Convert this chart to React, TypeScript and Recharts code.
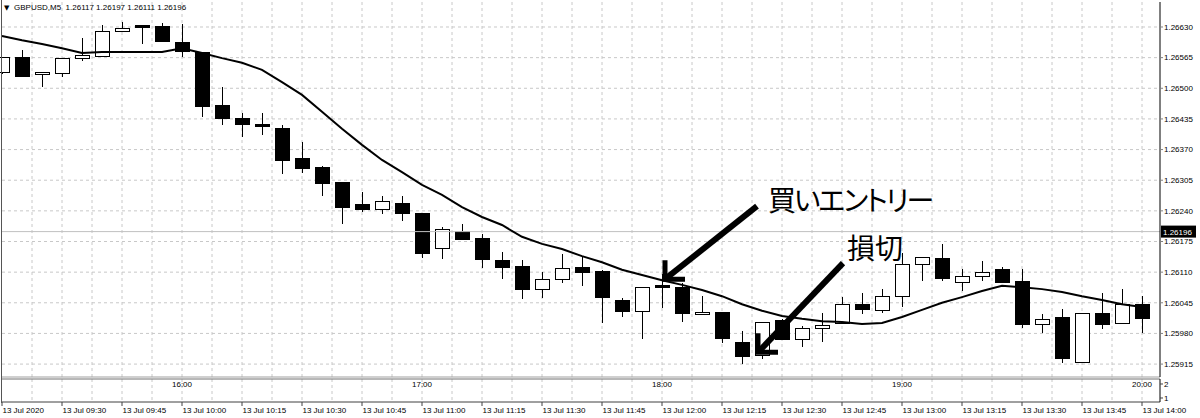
import React from 'react'
import {
  ComposedChart,
  Bar,
  Line,
  XAxis,
  YAxis,
  CartesianGrid,
  ReferenceLine,
} from 'recharts'

// GBPUSD M5 candles, left to right
const OPEN = [
  1.26535, 1.26566, 1.2653, 1.26532, 1.26564, 1.26568, 1.26622, 1.26634, 1.26632, 1.26598,
  1.26577, 1.26465, 1.26437, 1.26424, 1.26416, 1.26352, 1.26333, 1.26301, 1.26255, 1.26244,
  1.26257, 1.26235, 1.26161, 1.26197, 1.26182, 1.26136, 1.26123, 1.26074, 1.26095, 1.26121,
  1.26112, 1.26051, 1.26028, 1.26083, 1.26078, 1.26021, 1.26025, 1.25962, 1.25934, 1.26008,
  1.25968, 1.25991, 1.26002, 1.26042, 1.2603, 1.26059, 1.26127, 1.2614, 1.26089, 1.26102,
  1.26117, 1.26091, 1.26, 1.26015, 1.25919, 1.26023, 1.26002, 1.26042,
]
const HIGH = [
  1.26566, 1.26581, 1.26535, 1.26564, 1.26607, 1.26634, 1.26641, 1.26634, 1.26638, 1.26636,
  1.26577, 1.26503, 1.26448, 1.26448, 1.26422, 1.26386, 1.26335, 1.26301, 1.2628, 1.26271,
  1.26271, 1.26235, 1.26206, 1.26212, 1.26191, 1.26153, 1.26136, 1.2611, 1.26149, 1.26142,
  1.26115, 1.26055, 1.26078, 1.26106, 1.26087, 1.26059, 1.26025, 1.25985, 1.26004, 1.26011,
  1.25995, 1.26023, 1.26057, 1.26066, 1.26074, 1.26151, 1.26142, 1.2617, 1.26117, 1.26134,
  1.26121, 1.26117, 1.26021, 1.26032, 1.26023, 1.26066, 1.26074, 1.26059,
]
const LOW = [
  1.2653, 1.26526, 1.26503, 1.26524, 1.26558, 1.26568, 1.26622, 1.26594, 1.266, 1.26566,
  1.26439, 1.26422, 1.26397, 1.26401, 1.26318, 1.2632, 1.26271, 1.26212, 1.26238, 1.26233,
  1.26218, 1.2614, 1.26138, 1.26178, 1.26119, 1.26095, 1.26053, 1.26055, 1.26087, 1.26081,
  1.26002, 1.26015, 1.25968, 1.26034, 1.26004, 1.26021, 1.2596, 1.25915, 1.25926, 1.25968,
  1.25951, 1.25962, 1.26002, 1.26021, 1.26023, 1.26036, 1.26091, 1.26091, 1.2607, 1.26091,
  1.26089, 1.25991, 1.25981, 1.25917, 1.25919, 1.25989, 1.26002, 1.25981,
]
const CLOSE = [
  1.26566, 1.26526, 1.26535, 1.26564, 1.26571, 1.26622, 1.26628, 1.2663, 1.266, 1.26579,
  1.26462, 1.26437, 1.26424, 1.2642, 1.26348, 1.26331, 1.26299, 1.26248, 1.26244, 1.26261,
  1.26235, 1.26151, 1.26201, 1.2618, 1.26138, 1.26121, 1.26074, 1.26095, 1.26119, 1.2611,
  1.26057, 1.26028, 1.26078, 1.26078, 1.26023, 1.26025, 1.2597, 1.25932, 1.26004, 1.25968,
  1.25991, 1.25998, 1.26042, 1.26032, 1.26059, 1.26127, 1.26142, 1.26098, 1.26102, 1.2611,
  1.26089, 1.26, 1.26011, 1.25928, 1.26023, 1.26, 1.26042, 1.26013,
]
// moving average drawn over the candles
const MA = [
  1.26611, 1.26602, 1.26594, 1.26585, 1.26575, 1.26577, 1.26577, 1.26577, 1.26577, 1.26585,
  1.26575, 1.26564, 1.26554, 1.26539, 1.26513, 1.26486, 1.2645, 1.26414, 1.2638, 1.26348,
  1.26322, 1.26295, 1.26274, 1.26248, 1.26227, 1.2621, 1.26185, 1.2617, 1.26159, 1.26144,
  1.26131, 1.26115, 1.26104, 1.26093, 1.26083, 1.26072, 1.26059, 1.26042, 1.26028, 1.26017,
  1.26011, 1.26006, 1.26004, 1.26, 1.26002, 1.26015, 1.2603, 1.26045, 1.26057, 1.2607,
  1.26081, 1.26078, 1.26074, 1.26068, 1.26059, 1.26051, 1.26042, 1.26036,
]

const PRICE_TICKS = [
  1.2663, 1.26565, 1.265, 1.26435, 1.2637, 1.26305, 1.2624, 1.26175, 1.2611, 1.26045, 1.2598, 1.25915,
]
const Y_MIN = 1.258876
const Y_MAX = 1.26683
const X_MAX = 57.9

const TIME_TICKS = [0, 3, 6, 9, 12, 15, 18, 21, 24, 27, 30, 33, 36, 39, 42, 45, 48, 51, 54, 57]
const TIME_LABELS = [
  '13 Jul 2020', '13 Jul 09:30', '13 Jul 09:45', '13 Jul 10:00', '13 Jul 10:15',
  '13 Jul 10:30', '13 Jul 10:45', '13 Jul 11:00', '13 Jul 11:15', '13 Jul 11:30',
  '13 Jul 11:45', '13 Jul 12:00', '13 Jul 12:15', '13 Jul 12:30', '13 Jul 12:45',
  '13 Jul 13:00', '13 Jul 13:15', '13 Jul 13:30', '13 Jul 13:45', '13 Jul 14:00',
]
const HOUR_TICKS = [9, 21, 33, 45, 57]
const HOUR_LABELS = ['16:00', '17:00', '18:00', '19:00', '20:00']
const GRID_X = [
  1.5, 3, 4.5, 6, 7.5, 9, 10.5, 12, 13.5, 15, 16.5, 18, 19.5, 21, 22.5, 24, 25.5, 27, 28.5,
  30, 31.5, 33, 34.5, 36, 37.5, 39, 40.5, 42, 43.5, 45, 46.5, 48, 49.5, 51, 52.5, 54, 55.5, 57,
]

const LAST_PRICE = 1.26196
const HEADER = 'GBPUSD,M5  1.26117 1.26197 1.26111 1.26196'

// annotation arrows: tail -> tip
const ENTRY_ARROW = [{ x: 37.75, y: 1.2625 }, { x: 33.15, y: 1.26095 }]
const STOP_ARROW = [{ x: 42.05, y: 1.26129 }, { x: 37.8, y: 1.2594 }]

const FONT = 'Liberation Sans, Arial, sans-serif'

const candles = OPEN.map((o, i) => ({
  i,
  open: o,
  high: HIGH[i],
  low: LOW[i],
  close: CLOSE[i],
  ma: MA[i],
}))

const subData = candles.map((c) => ({ i: c.i }))

function Candle(props: any) {
  const { x, y, width, height, payload } = props
  if (x == null || payload == null) return null
  const top = Math.min(y, y + height)
  const h = Math.abs(height)
  const { open, close, high, low } = payload
  const py = (p: number) => top + ((high - p) / (high - low)) * h
  const cx = Math.round(x + width / 2)
  const up = close >= open
  const bTop = Math.round(py(Math.max(open, close)))
  let bBot = Math.round(py(Math.min(open, close)))
  if (bBot - bTop < 2) bBot = bTop + 2
  return (
    <g>
      <line
        x1={cx + 0.5}
        x2={cx + 0.5}
        y1={Math.round(top)}
        y2={Math.round(top + h)}
        stroke="#000"
      />
      <rect
        x={cx - 6.5}
        y={bTop + 0.5}
        width={14}
        height={bBot - bTop}
        fill={up ? '#fff' : '#000'}
        stroke="#000"
      />
    </g>
  )
}

function Arrow(props: any) {
  const { x1, y1, x2, y2 } = props
  if (x1 == null) return null
  return (
    <g>
      <line x1={x1} y1={y1} x2={x2} y2={y2} stroke="#000" strokeWidth={6} />
      <polyline
        points={`${x2},${y2 - 19} ${x2},${y2} ${x2 + 20},${y2}`}
        fill="none"
        stroke="#000"
        strokeWidth={5}
        strokeLinejoin="miter"
      />
    </g>
  )
}

function PriceTag(props: any) {
  const vb = props.viewBox
  if (!vb) return null
  const right = vb.x + vb.width
  const y = vb.y
  return (
    <g>
      <rect x={right + 1} y={y - 6} width={35} height={12} fill="#000" />
      <text x={right + 3} y={y + 3} fontSize={8} fill="#fff" fontFamily={FONT}>
        {LAST_PRICE.toFixed(5)}
      </text>
    </g>
  )
}

function TimeTick(props: any) {
  const { x, y, payload } = props
  const idx = TIME_TICKS.indexOf(payload.value)
  return (
    <text x={x + 0.5} y={y + 36} fontSize={8} fill="#000" fontFamily={FONT}>
      {TIME_LABELS[idx]}
    </text>
  )
}

function HourTick(props: any) {
  const { x, y, payload } = props
  const idx = HOUR_TICKS.indexOf(payload.value)
  return (
    <text x={x} y={y + 8} fontSize={8} fill="#000" fontFamily={FONT} textAnchor="middle">
      {HOUR_LABELS[idx]}
    </text>
  )
}

export default function App() {
  return (
    <div
      style={{
        position: 'absolute',
        left: 0,
        top: 0,
        width: 1200,
        height: 418,
        background: '#fff',
        overflow: 'hidden',
        fontFamily: FONT,
      }}
    >
      <div style={{ position: 'absolute', left: 0, top: 0 }}>
        <ComposedChart
          width={1200}
          height={418}
          data={candles}
          margin={{ top: 2, right: 0, bottom: 0, left: 2 }}
        >
          <CartesianGrid
            stroke="#c8c8c8"
            strokeDasharray="3 3"
            verticalValues={GRID_X}
            horizontalValues={PRICE_TICKS}
          />
          <XAxis
            dataKey="i"
            type="number"
            domain={[0, X_MAX]}
            ticks={TIME_TICKS}
            interval={0}
            height={41}
            tickLine={false}
            tickSize={0}
            tickMargin={0}
            axisLine={{ stroke: '#a0a0a0' }}
            tick={TimeTick}
          />
          <YAxis
            orientation="right"
            width={40}
            domain={[Y_MIN, Y_MAX]}
            ticks={PRICE_TICKS}
            interval={0}
            tickSize={3}
            tickMargin={1}
            axisLine={{ stroke: '#000' }}
            tickLine={{ stroke: '#808080' }}
            tick={{ fontSize: 8, fill: '#000', fontFamily: FONT }}
            tickFormatter={(v: number) => v.toFixed(5)}
          />
          <ReferenceLine y={LAST_PRICE} stroke="#c0c0c0" label={PriceTag} />
          <Bar
            dataKey={(d: any) => [d.low, d.high]}
            barSize={15}
            shape={Candle}
            isAnimationActive={false}
          />
          <Line
            dataKey="ma"
            type="linear"
            stroke="#000"
            strokeWidth={2}
            dot={false}
            isAnimationActive={false}
          />
          <ReferenceLine segment={ENTRY_ARROW} shape={Arrow} />
          <ReferenceLine segment={STOP_ARROW} shape={Arrow} />
        </ComposedChart>
      </div>

      {/* empty sub-window under the price chart */}
      <div style={{ position: 'absolute', left: 0, top: 377 }}>
        <ComposedChart
          width={1200}
          height={41}
          data={subData}
          margin={{ top: 1, right: 0, bottom: 0, left: 2 }}
        >
          <CartesianGrid
            xAxisId="bot"
            stroke="#c8c8c8"
            strokeDasharray="3 3"
            horizontal={false}
            verticalValues={GRID_X}
          />
          <XAxis
            xAxisId="top"
            orientation="top"
            dataKey="i"
            type="number"
            domain={[0, X_MAX]}
            allowDataOverflow
            ticks={HOUR_TICKS}
            interval={0}
            height={1}
            tickLine={false}
            tickSize={0}
            tickMargin={0}
            axisLine={{ stroke: '#707070' }}
            tick={HourTick}
          />
          <XAxis
            xAxisId="bot"
            dataKey="i"
            type="number"
            domain={[0, X_MAX]}
            allowDataOverflow
            ticks={TIME_TICKS}
            interval={0}
            height={16}
            tickSize={4}
            tickLine={{ stroke: '#404040' }}
            axisLine={{ stroke: '#404040' }}
            tick={() => <g />}
          />
          <YAxis
            orientation="right"
            width={40}
            domain={[0.714, 2.357]}
            allowDataOverflow
            ticks={[1, 2]}
            interval={0}
            tickSize={3}
            tickMargin={1}
            axisLine={{ stroke: '#000' }}
            tickLine={{ stroke: '#404040' }}
            tick={{ fontSize: 8, fill: '#000', fontFamily: FONT }}
          />
          <Line
            xAxisId="bot"
            dataKey="sub"
            stroke="none"
            dot={false}
            isAnimationActive={false}
          />
        </ComposedChart>
      </div>

      {/* window frame, left edge */}
      <div
        style={{ position: 'absolute', left: 1, top: 0, width: 1, height: 403, background: '#555' }}
      />

      {/* header */}
      <div
        style={{
          position: 'absolute',
          left: 4,
          top: 3,
          fontSize: 7,
          lineHeight: '10px',
          color: '#000',
          fontFamily: 'DejaVu Sans, sans-serif',
        }}
      >
        ▼
      </div>
      <div
        style={{
          position: 'absolute',
          left: 14,
          top: 3,
          fontSize: 8,
          lineHeight: '10px',
          color: '#000',
          whiteSpace: 'pre',
        }}
      >
        {HEADER}
      </div>

      {/* annotations */}
      <div
        style={{
          position: 'absolute',
          left: 768,
          top: 185,
          fontSize: 28,
          lineHeight: '28px',
          letterSpacing: -2,
          color: '#000',
          whiteSpace: 'nowrap',
          fontFamily: '"Noto Sans CJK JP", sans-serif',
          fontFeatureSettings: '"palt"',
        }}
      >
        買いエントリー
      </div>
      <div
        style={{
          position: 'absolute',
          left: 847,
          top: 233,
          fontSize: 28,
          lineHeight: '28px',
          color: '#000',
          whiteSpace: 'nowrap',
          fontFamily: '"Noto Sans CJK JP", sans-serif',
        }}
      >
        損切
      </div>
    </div>
  )
}
